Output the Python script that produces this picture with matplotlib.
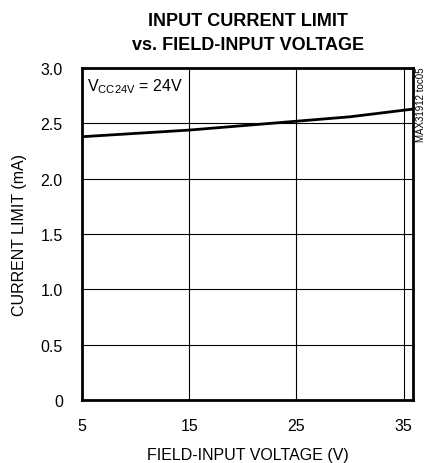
import matplotlib.pyplot as plt

plt.rcParams['font.family'] = ['Liberation Sans', 'DejaVu Sans']

# field-input voltage (V) and current limit (mA)
voltage = [5, 10, 15, 20, 25, 30, 35.9]
current = [2.38, 2.41, 2.44, 2.48, 2.52, 2.56, 2.63]

x_ticks = [5, 15, 25, 35]
y_ticks = [0, 0.5, 1.0, 1.5, 2.0, 2.5, 3.0]
y_labels = ['0', '0.5', '1.0', '1.5', '2.0', '2.5', '3.0']

fig = plt.figure(figsize=(4.26, 4.64), dpi=100)
ax = fig.add_axes([0.193, 0.136, 0.777, 0.715])

ax.plot(voltage, current, color='black', linewidth=2)

ax.set_xlim(5, 35.9)
ax.set_ylim(0, 3.0)
ax.set_xticks(x_ticks)
ax.set_yticks(y_ticks)
ax.set_yticklabels(y_labels)
ax.tick_params(length=0, labelsize=11.5)
ax.tick_params(axis='y', pad=14)
ax.tick_params(axis='x', pad=13)
ax.grid(True, color='black', linewidth=0.8)
for s in ax.spines.values():
    s.set_linewidth(2)

ax.set_xlabel('FIELD-INPUT VOLTAGE (V)', fontsize=11.5, labelpad=10)
ax.set_ylabel('CURRENT LIMIT (mA)', fontsize=11.5, labelpad=10)
ax.set_title('INPUT CURRENT LIMIT\nvs. FIELD-INPUT VOLTAGE', fontsize=13,
             fontweight='bold', pad=14, linespacing=1.5)

ax.text(0.015, 0.975, r'V$_{\mathregular{CC24V}}$ = 24V', transform=ax.transAxes,
        ha='left', va='top', fontsize=11.5)
fig.text(0.976, 0.855, 'MAX31912 toc05', rotation=90, ha='left', va='top', fontsize=7)

fig.savefig('out.png', dpi=100)
